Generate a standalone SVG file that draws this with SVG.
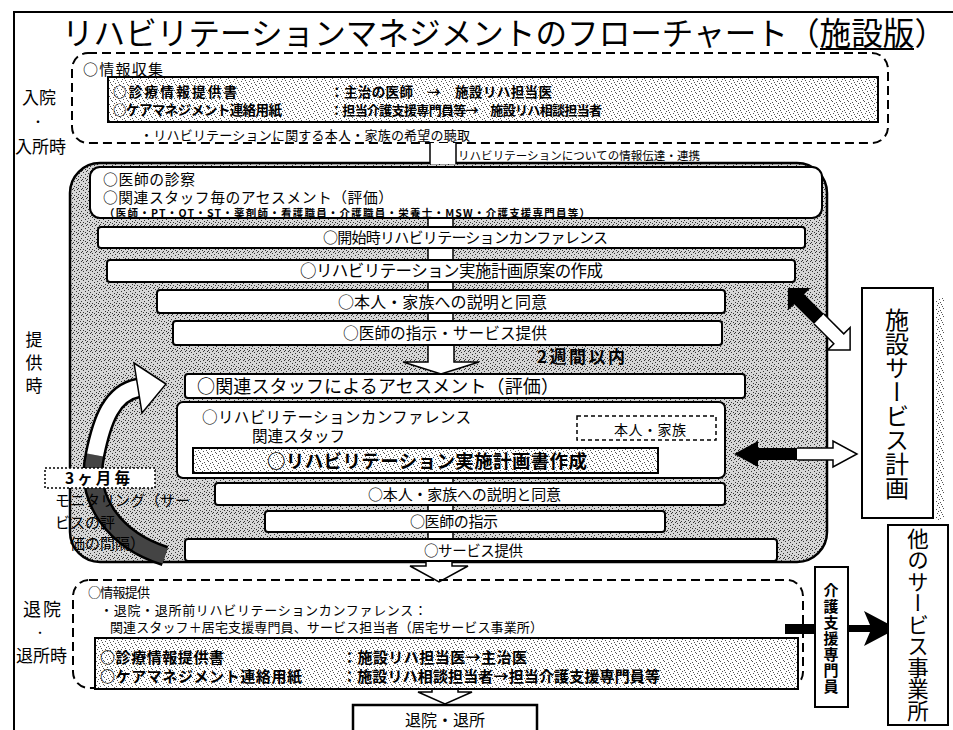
<svg xmlns="http://www.w3.org/2000/svg" width="953" height="730" viewBox="0 0 953 730">
<defs>
<style>
text{font-family:'Noto Sans CJK JP','Noto Sans CJK SC',sans-serif;fill:#000}
.b{font-weight:700}
.box{fill:#fff;stroke:#000;stroke-width:2}
.lbox{fill:url(#light);stroke:#000;stroke-width:2}
.dash{fill:none;stroke:#000;stroke-width:2;stroke-dasharray:9 5}
.shaft{fill:#fff;stroke:none}
.side{stroke:#000;stroke-width:1.5;fill:none}
.warrow{fill:#fff;stroke:#000;stroke-width:1.5;stroke-linejoin:miter}
.v{writing-mode:vertical-rl}
</style>
<pattern id="dense" width="9" height="9" patternUnits="userSpaceOnUse">
<rect width="9" height="9" fill="#d6d6d6"/>
<path fill="#333" d="M0 0h1v1h-1zM5 0h1v1h-1zM2 1h1v1h-1zM7 2h1v1h-1zM4 3h1v1h-1zM0 4h1v1h-1zM6 5h1v1h-1zM2 6h1v1h-1zM8 6h1v1h-1zM4 7h1v1h-1zM1 8h1v1h-1zM6 8h1v1h-1z"/>
</pattern>
<pattern id="light" width="8" height="8" patternUnits="userSpaceOnUse">
<rect width="8" height="8" fill="#fff"/>
<path fill="#555" d="M1 1h1v1h-1zM5 0h1v1h-1zM3 3h1v1h-1zM7 4h1v1h-1zM0 5h1v1h-1zM4 6h1v1h-1zM6 2h1v1h-1zM2 7h1v1h-1z"/>
</pattern>
</defs>

<g id="frame">
<path d="M14 730V12H953" fill="none" stroke="#000" stroke-width="2"/>
</g>

<g id="title">
<text x="62" y="45" font-size="31.5" textLength="884" lengthAdjust="spacingAndGlyphs">リハビリテーションマネジメントのフローチャート（施設版）</text>
<line x1="820" y1="49" x2="914" y2="49" stroke="#000" stroke-width="2"/>
</g>

<g id="phase-labels">
<text x="22" y="104" font-size="17" textLength="34">入院</text>
<text x="38" y="127" font-size="12" text-anchor="middle">・</text>
<text x="15" y="153" font-size="17" textLength="51">入所時</text>
<text class="v" x="34" y="331" font-size="17" letter-spacing="6">提供時</text>
<text x="23" y="616" font-size="18" textLength="38">退院</text>
<text x="40" y="637" font-size="11" text-anchor="middle">・</text>
<text x="16" y="662" font-size="17" textLength="51">退所時</text>
</g>

<g id="admission">
<rect class="dash" x="72" y="53" width="816" height="90" rx="16"/>
<text x="83" y="75" font-size="15" textLength="80">○情報収集</text>
<g id="admission-docs">
<rect class="lbox" x="108" y="77" width="770" height="45"/>
<text class="b" x="113" y="97" font-size="13.5"><tspan textLength="124">○診療情報提供書</tspan><tspan x="113" y="115" textLength="169">○ケアマネジメント連絡用紙</tspan></text>
<text class="b" x="330" y="97" font-size="13.5"><tspan textLength="222">：主治の医師　→　施設リハ担当医</tspan><tspan x="330" y="115" font-size="13" textLength="272">：担当介護支援専門員等→　施設リハ相談担当者</tspan></text>
</g>
<text x="140" y="140" font-size="13" textLength="330">・リハビリテーションに関する本人・家族の希望の聴取</text>
</g>

<text x="458" y="160" font-size="11.5" textLength="242">リハビリテーションについての情報伝達・連携</text>

<g id="provision">
<rect x="70" y="163" width="757" height="399" rx="30" fill="url(#dense)" stroke="#000" stroke-width="2.5"/>
</g>

<g id="connectors">
<rect class="shaft" x="430" y="143" width="26" height="21"/>
<path class="side" d="M430 143V164M456 143V164"/>
<g id="gaps">
<rect class="shaft" x="428" y="218" width="25" height="9"/><path class="side" d="M428 218V227M453 218V227"/>
<rect class="shaft" x="428" y="248" width="25" height="12"/><path class="side" d="M428 248V260M453 248V260"/>
<rect class="shaft" x="428" y="282" width="25" height="8"/><path class="side" d="M428 282V290M453 282V290"/>
<rect class="shaft" x="428" y="313" width="25" height="8"/><path class="side" d="M428 313V321M453 313V321"/>
<rect class="shaft" x="428" y="478" width="25" height="5"/><path class="side" d="M428 478V483M453 478V483"/>
<rect class="shaft" x="428" y="505" width="25" height="6"/><path class="side" d="M428 505V511M453 505V511"/>
<rect class="shaft" x="428" y="532" width="25" height="7"/><path class="side" d="M428 532V539M453 532V539"/>
</g>
<path class="warrow" d="M428 345V362H403L441 374L479 362H454V345"/>
<path class="warrow" d="M426 561V566H410L439 582L468 566H452V561"/>
<path class="warrow" d="M432 689V692H418L445 704L472 692H458V689"/>
<g id="cycle-arrow">
<path d="M165 556C115 540 85 500 95 455C102 420 112 393 138 388" fill="none" stroke="#000" stroke-width="21"/>
<path d="M165 556C115 540 85 500 95 455" fill="none" stroke="#444" stroke-width="16"/>
<path d="M95 455C102 420 112 393 138 388" fill="none" stroke="#fff" stroke-width="16"/>
<path class="warrow" d="M134 363L166 384L142 413Z" stroke-width="2"/>
</g>
<g id="diag-double-arrow" transform="translate(819 319) rotate(45)">
<path d="M-44 0L-28 -16V-7H0V7H-28V16Z" fill="#000"/>
<path class="warrow" d="M0 -7H28V-16L44 0L28 16V7H0" stroke-width="2"/>
</g>
<g id="horiz-double-arrow">
<path d="M734 454L758 441V448H797V460H758V467Z" fill="#000"/>
<path class="warrow" d="M797 448H833V441L857 454L833 467V460H797" stroke-width="2"/>
</g>
<rect x="785" y="624" width="30" height="10" fill="#000"/>
<path d="M848 625H870L864 611L897 628.5L864 646L870 632H848Z" fill="#000"/>
</g>

<g id="exam">
<rect class="box" x="90" y="167" width="732" height="51" rx="10"/>
<text x="103" y="185" font-size="14.8"><tspan textLength="92">○医師の診察</tspan><tspan x="103" y="203" textLength="290">○関連スタッフ毎のアセスメント（評価）</tspan><tspan class="b" x="104" y="216.5" font-size="10.5" textLength="486">（医師・PT・OT・ST・薬剤師・看護職員・介護職員・栄養士・MSW・介護支援専門員等）</tspan></text>
</g>
<g id="start-conf">
<rect class="box" x="98" y="227" width="707" height="21" rx="3"/>
<text x="323" y="243" font-size="15" textLength="285">○開始時リハビリテーションカンファレンス</text>
</g>
<g id="draft-plan">
<rect class="box" x="107" y="260" width="688" height="22" rx="3"/>
<text x="300" y="277" font-size="16.5" textLength="303">○リハビリテーション実施計画原案の作成</text>
</g>
<g id="consent1">
<rect class="box" x="157" y="290" width="568" height="23" rx="3"/>
<text x="338" y="308" font-size="16" textLength="209">○本人・家族への説明と同意</text>
</g>
<g id="instruction-service">
<rect class="box" x="173" y="321" width="549" height="24" rx="3"/>
<text x="343" y="339" font-size="15.7" textLength="204">○医師の指示・サービス提供</text>
</g>
<text class="b" x="537" y="363" font-size="17" textLength="88">2週間以内</text>
<g id="staff-assessment">
<rect class="box" x="185" y="374" width="560" height="24" rx="3"/>
<text x="197" y="393" font-size="18" textLength="362">○関連スタッフによるアセスメント（評価）</text>
</g>
<g id="conference">
<rect class="box" x="177" y="402" width="548" height="76" rx="6"/>
<text x="202" y="423" font-size="15.6"><tspan textLength="269">○リハビリテーションカンファレンス</tspan><tspan x="252" y="442" textLength="93">関連スタッフ</tspan></text>
<rect x="577" y="416" width="139" height="24" fill="#fff" stroke="#000" stroke-width="1.5" stroke-dasharray="4 3"/>
<text x="614" y="435" font-size="14" textLength="72">本人・家族</text>
<rect class="lbox" x="193" y="448" width="465" height="25"/>
<text class="b" x="267" y="468" font-size="18.5" textLength="320">○リハビリテーション実施計画書作成</text>
</g>
<g id="consent2">
<rect class="box" x="215" y="483" width="510" height="22" rx="3"/>
<text x="368" y="499.5" font-size="15" textLength="193">○本人・家族への説明と同意</text>
</g>
<g id="instruction">
<rect class="box" x="265" y="511" width="400" height="21" rx="3"/>
<text x="410" y="527" font-size="15" textLength="88">○医師の指示</text>
</g>
<g id="service">
<rect class="box" x="185" y="539" width="592" height="22" rx="3"/>
<text x="424" y="555.5" font-size="14.5" textLength="99">○サービス提供</text>
</g>

<g id="monitoring">
<rect x="45" y="468" width="110" height="20" fill="#fff" stroke="#000" stroke-width="1.5" stroke-dasharray="2 2"/>
<text class="b" x="65" y="484" font-size="15.5" textLength="65">3ヶ月毎</text>
<text x="55" y="506" font-size="15"><tspan textLength="135">モニタリング（サー</tspan><tspan x="55" y="528">ビスの評</tspan><tspan x="70" y="549">価の間隔）</tspan></text>
</g>

<g id="discharge">
<rect class="dash" x="73" y="580" width="730" height="108" rx="16"/>
<text x="88" y="597" font-size="13"><tspan textLength="62">○情報提供</tspan><tspan x="100" y="615" textLength="327">・退院・退所前リハビリテーションカンファレンス：</tspan><tspan x="110" y="632" textLength="433">関連スタッフ＋居宅支援専門員、サービス担当者（居宅サービス事業所）</tspan></text>
<g id="discharge-docs">
<rect class="lbox" x="95" y="638" width="703" height="51"/>
<text class="b" x="100" y="663" font-size="15"><tspan textLength="124">○診療情報提供書</tspan><tspan x="100" y="682" textLength="202">○ケアマネジメント連絡用紙</tspan></text>
<text class="b" x="342" y="663" font-size="15"><tspan textLength="185">：施設リハ担当医→主治医</tspan><tspan x="342" y="682" textLength="318">：施設リハ相談担当者→担当介護支援専門員等</tspan></text>
</g>
</g>

<g id="exit">
<rect x="353" y="705" width="184" height="40" fill="#fff" stroke="#000" stroke-width="2.5"/>
<text x="445" y="725.5" font-size="16" text-anchor="middle">退院・退所</text>
</g>

<g id="facility-plan">
<rect x="936" y="298" width="8" height="222" fill="url(#light)"/>
<rect class="box" x="862" y="288" width="71" height="230"/>
<text class="v" x="897" y="308" font-size="24">施設サービス計画</text>
</g>
<g id="care-manager">
<rect class="box" x="815" y="567" width="33" height="140"/>
<text class="v b" x="831" y="583" font-size="15" letter-spacing="1">介護支援専門員</text>
</g>
<g id="other-services">
<rect class="box" x="888" y="525" width="60" height="200"/>
<text class="v" x="918" y="528" font-size="21.5">他のサービス事業所</text>
</g>
</svg>
